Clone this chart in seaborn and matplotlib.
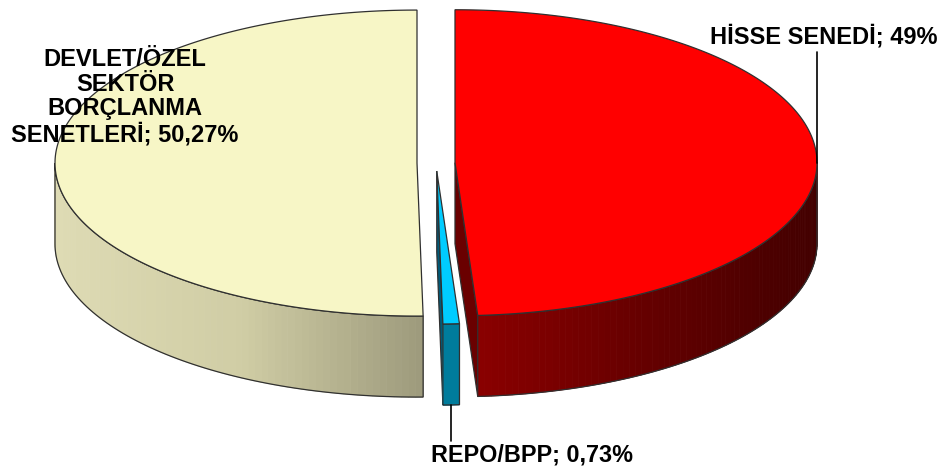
import numpy as np
import seaborn as sns
import matplotlib.pyplot as plt
from matplotlib.patches import Polygon

# Slice data (clockwise from 12 o'clock)
labels = ['HİSSE SENEDİ; 49%', 'REPO/BPP; 0,73%', 'DEVLET/ÖZEL\nSEKTÖR\nBORÇLANMA\nSENETLERİ; 50,27%']
values = [49.0, 0.73, 50.27]
top_colors = ['#ff0000', '#00ccff', '#f7f6c6']
# wall shading, left to right across the wall
wall_colors = [['#8a0000', '#640000', '#420000'],
               ['#007c9c', '#007c9c'],
               ['#dedbb4', '#d0cda5', '#9d9a7c']]
cut_colors = ['#6a0000', '#005a78', '#c8c6a0']

sns.set_theme(style='white')
plt.rcParams['font.family'] = ['Liberation Sans', 'DejaVu Sans']

# Geometry of the 3D pie (pixel units)
x0, y0 = 436, 163      # unexploded centre of top face
a, b = 362, 153        # ellipse semi axes
h = 81                 # thickness
explode = 19

fig = plt.figure(figsize=(9.5, 4.72), dpi=100)
ax = fig.add_axes([0, 0, 1, 1])
ax.set_xlim(0, 950)
ax.set_ylim(472, 0)
ax.axis('off')

total = sum(values)
bounds = np.cumsum([0] + values) / total * 360
edge = '#303030'


def pt(cx, cy, t, dz=0):
    r = np.radians(t)
    return cx + a * np.sin(r), cy - b * np.cos(r) + dz


centres = []
for i in range(len(values)):
    t0, t1 = bounds[i], bounds[i + 1]
    mid = np.radians((t0 + t1) / 2)
    cx = x0 + explode * np.sin(mid)
    cy = y0 - explode * b / a * np.cos(mid)
    centres.append((cx, cy))

# walls and cut faces
for i in range(len(values)):
    t0, t1 = bounds[i], bounds[i + 1]
    cx, cy = centres[i]
    # visible cut faces
    if np.sin(np.radians(t1)) > 0.001:
        p1 = pt(cx, cy, t1)
        face = [(cx, cy), p1, (p1[0], p1[1] + h), (cx, cy + h)]
        ax.add_patch(Polygon(face, closed=True, fc=cut_colors[i], ec=edge, lw=0.9))
    if np.sin(np.radians(t0)) < -0.001:
        p0 = pt(cx, cy, t0)
        face = [(cx, cy), p0, (p0[0], p0[1] + h), (cx, cy + h)]
        ax.add_patch(Polygon(face, closed=True, fc=cut_colors[i], ec=edge, lw=0.9))
    # front outer wall, shaded by horizontal position
    w0, w1 = max(t0, 90), min(t1, 270)
    if w1 > w0:
        ts = np.linspace(w0, w1, 80)
        xs = np.array([pt(cx, cy, t)[0] for t in ts])
        pal = np.array(sns.blend_palette(wall_colors[i], 200))
        frac = (xs - xs.min()) / max(xs.max() - xs.min(), 1)
        for k in range(len(ts) - 1):
            pa, pb = pt(cx, cy, ts[k]), pt(cx, cy, ts[k + 1])
            f = (frac[k] + frac[k + 1]) / 2
            col = pal[min(int(f * 199), 199)]
            quad = [pa, pb, (pb[0], pb[1] + h), (pa[0], pa[1] + h)]
            ax.add_patch(Polygon(quad, closed=True, fc=col, ec=col, lw=0.6))
        top = [pt(cx, cy, t) for t in ts]
        bot = [pt(cx, cy, t, h) for t in ts[::-1]]
        ax.add_patch(Polygon(top + bot, closed=True, fill=False, ec=edge, lw=0.9))

# top faces
for i in range(len(values)):
    t0, t1 = bounds[i], bounds[i + 1]
    cx, cy = centres[i]
    ts = np.linspace(t0, t1, max(int(t1 - t0) * 2, 4))
    poly = [(cx, cy)] + [pt(cx, cy, t) for t in ts]
    ax.add_patch(Polygon(poly, closed=True, fc=top_colors[i], ec=edge, lw=0.9))

# labels and leader lines
cx, cy = centres[0]
px, py = pt(cx, cy, 90)
ax.plot([px, px], [py, 52], color='black', lw=1.2)
ax.text(824, 37, labels[0], ha='center', va='center', fontsize=17, fontweight='bold', color='black')

cx, cy = centres[1]
mid = (bounds[1] + bounds[2]) / 2
px, py = pt(cx, cy, mid, h)
ax.plot([px, px], [py, 441], color='black', lw=1.2)
ax.text(532, 455, labels[1], ha='center', va='center', fontsize=16.8, fontweight='bold', color='black')

ax.text(125, 97, labels[2], ha='center', va='center', fontsize=17, fontweight='bold',
        color='black', linespacing=1.1, multialignment='center')

fig.savefig('out.png', dpi=100)
